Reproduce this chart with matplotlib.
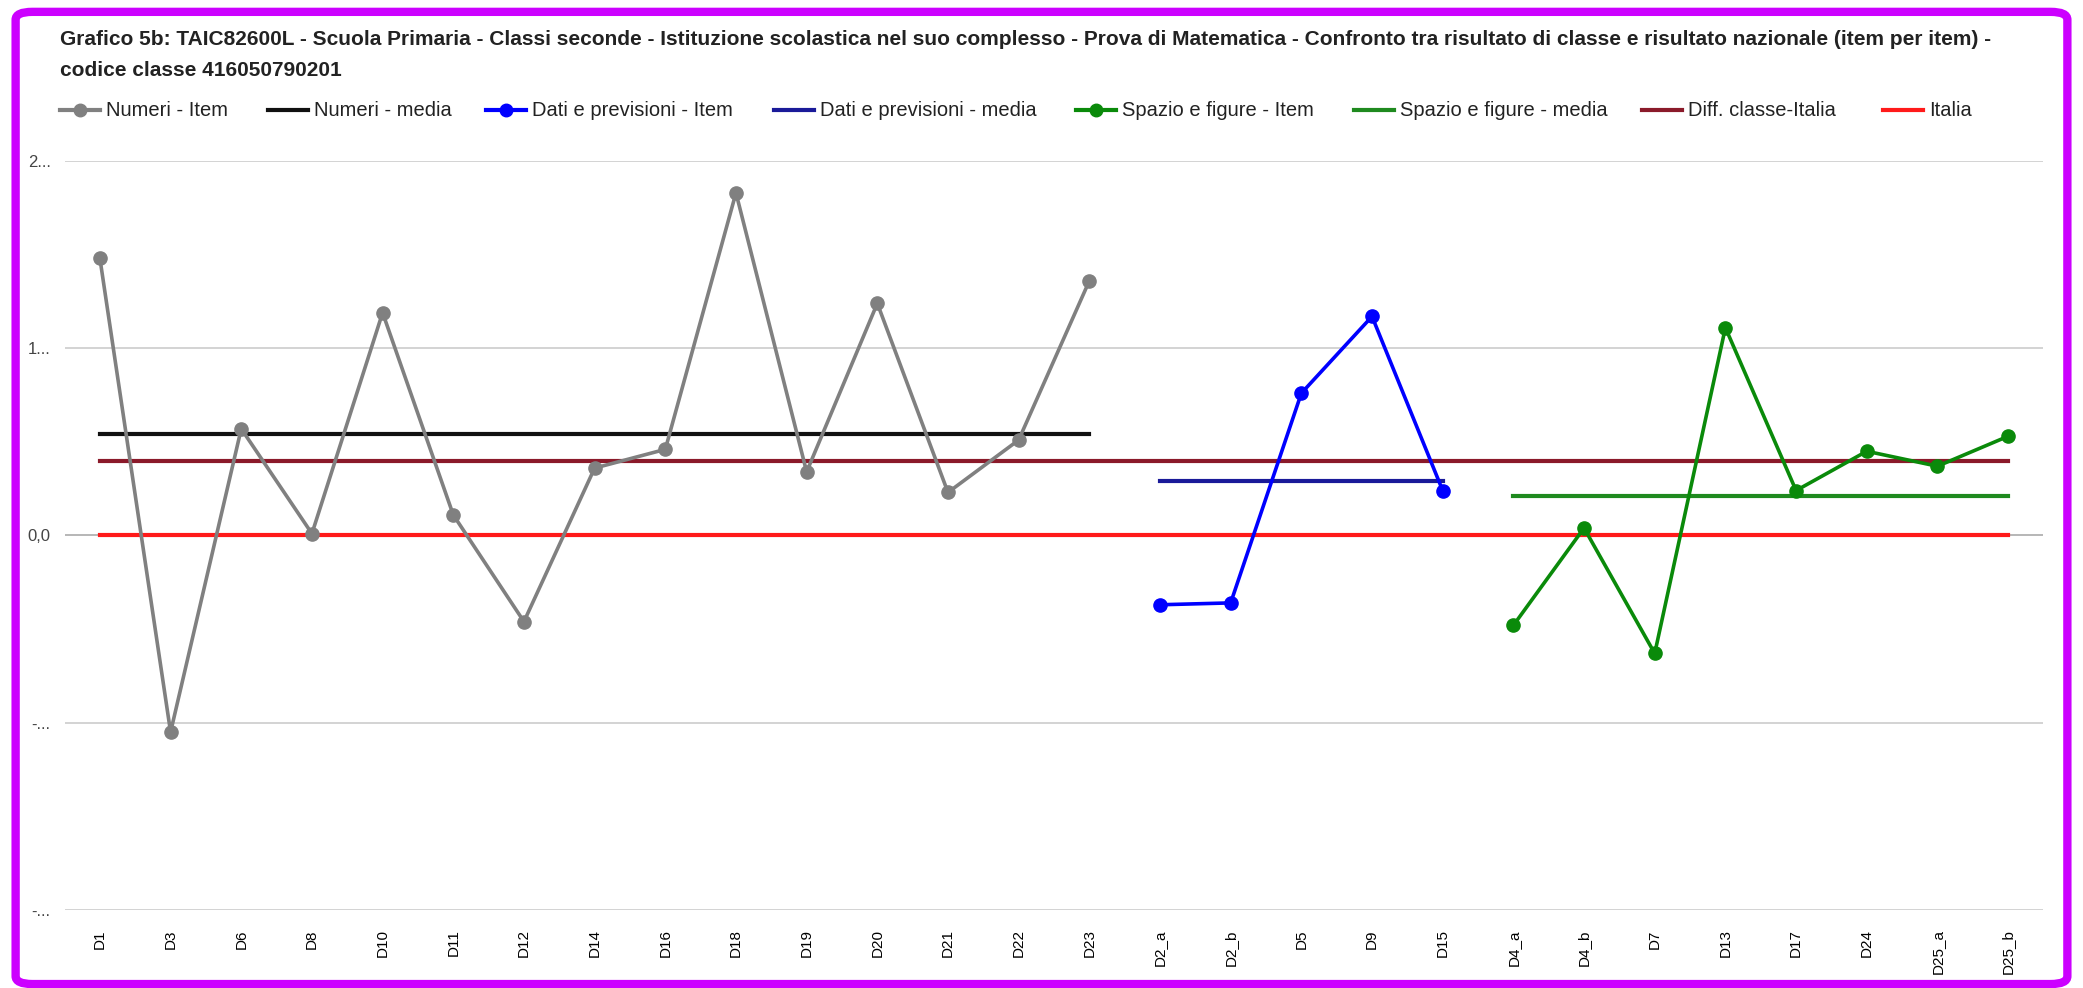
import matplotlib.pyplot as plt
from matplotlib.lines import Line2D
from matplotlib.patches import FancyBboxPatch

plt.rcParams['font.family'] = ['Liberation Sans', 'DejaVu Sans']

# item codes along the x axis
numeri_items = ["D1", "D3", "D6", "D8", "D10", "D11", "D12", "D14", "D16", "D18",
                "D19", "D20", "D21", "D22", "D23"]
dati_items = ["D2_a", "D2_b", "D5", "D9", "D15"]
spazio_items = ["D4_a", "D4_b", "D7", "D13", "D17", "D24", "D25_a", "D25_b"]

# class minus Italy, item by item
numeri_vals = [1.48, -1.05, 0.57, 0.01, 1.19, 0.11, -0.46, 0.36, 0.46, 1.83,
               0.34, 1.24, 0.23, 0.51, 1.36]
dati_vals = [-0.37, -0.36, 0.76, 1.17, 0.24]
spazio_vals = [-0.48, 0.04, -0.63, 1.11, 0.24, 0.45, 0.37, 0.53]

numeri_media = 0.54
dati_media = 0.29
spazio_media = 0.21
diff_classe_italia = 0.40
italia = 0.0

y_ticks = [-2, -1, 0, 1, 2]
y_labels = ["-...", "-...", "0,0", "1...", "2..."]

title = ("Grafico 5b: TAIC82600L - Scuola Primaria - Classi seconde - Istituzione scolastica nel suo complesso"
         " - Prova di Matematica - Confronto tra risultato di classe e risultato nazionale (item per item) -\n"
         "codice classe 416050790201")

labels = numeri_items + dati_items + spazio_items
n = len(labels)
xn = list(range(0, len(numeri_items)))
xd = list(range(len(numeri_items), len(numeri_items) + len(dati_items)))
xs = list(range(len(numeri_items) + len(dati_items), n))

W, H = 2083, 988
fig = plt.figure(figsize=(W / 100, H / 100), dpi=100)
ax = fig.add_axes([0.031, 0.079, 0.950, 0.758])

ax.set_xlim(-0.5, n - 0.5)
ax.set_ylim(-2, 2)
ax.set_yticks(y_ticks)
ax.set_yticklabels(y_labels, color="#444444", fontsize=12)
ax.grid(axis="y", color="#cccccc", linewidth=1.2)
ax.axhline(0, color="#333333", linewidth=1.2, zorder=1)
ax.set_xticks(range(n))
ax.set_xticklabels(labels, rotation=90, fontsize=11)
ax.tick_params(axis="x", length=0, pad=14)
ax.tick_params(axis="y", length=0, pad=10)
for s in ax.spines.values():
    s.set_visible(False)

lw_item = 2.6
lw_mean = 3.0
ms = 9.5

series = [
    ("Numeri - Item", xn, numeri_vals, "#808080", True),
    ("Numeri - media", [xn[0], xn[-1]], [numeri_media] * 2, "#111111", False),
    ("Dati e previsioni - Item", xd, dati_vals, "#0000ff", True),
    ("Dati e previsioni - media", [xd[0], xd[-1]], [dati_media] * 2, "#1a1a99", False),
    ("Spazio e figure - Item", xs, spazio_vals, "#0a8a0a", True),
    ("Spazio e figure - media", [xs[0], xs[-1]], [spazio_media] * 2, "#1f8a1f", False),
    ("Diff. classe-Italia", [0, n - 1], [diff_classe_italia] * 2, "#8b1a2a", False),
    ("Italia", [0, n - 1], [italia] * 2, "#ff1a1a", False),
]

for name, xx, yy, col, item in series:
    if item:
        ax.plot(xx, yy, color=col, marker="o", markersize=ms, linewidth=lw_item, zorder=4)
    else:
        ax.plot(xx, yy, color=col, linewidth=lw_mean, zorder=3)

fig.text(60 / W, 1 - 55 / H, title, fontsize=15, fontweight="bold", va="center", ha="left",
         linespacing=1.75, color="#222222")

# legend row, placed by hand (pixel x of each handle start)
legend_x = [60, 268, 486, 774, 1076, 1354, 1642, 1883]
legend_y = 1 - 110 / H
for (name, xx, yy, col, item), lx in zip(series, legend_x):
    x0, x1 = lx / W, (lx + 40) / W
    fig.add_artist(Line2D([x0, x1], [legend_y, legend_y], transform=fig.transFigure,
                          color=col, linewidth=lw_mean))
    if item:
        fig.add_artist(Line2D([(x0 + x1) / 2], [legend_y], transform=fig.transFigure,
                              color=col, marker="o", markersize=9))
    fig.text((lx + 46) / W, legend_y, name, fontsize=14.5, va="center", ha="left", color="#222222")

border = FancyBboxPatch((0.0075, 0.004), 0.985, 0.984, boxstyle="round,pad=0,rounding_size=0.008",
                        transform=fig.transFigure, fill=False, edgecolor="#cc00ff", linewidth=6)
fig.patches.append(border)

fig.savefig("out.png", dpi=100)
